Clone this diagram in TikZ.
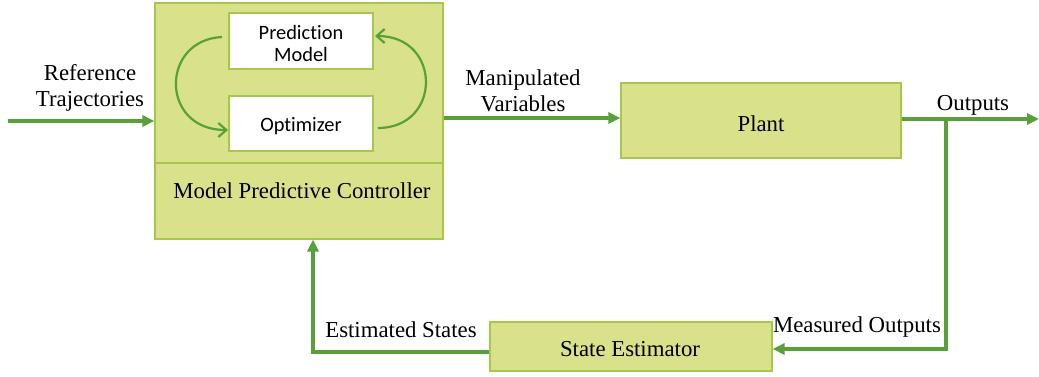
\documentclass[tikz,border=0pt]{standalone}
\usepackage{fontspec}
\setmainfont{Liberation Serif}
\newfontfamily\boxfont[Ligatures=NoCommon]{Carlito}
\usetikzlibrary{arrows.meta}
\definecolor{boxfill}{RGB}{217,225,138}
\definecolor{boxline}{RGB}{165,200,75}
\definecolor{flow}{RGB}{88,160,58}
\tikzset{
  block/.style={draw=boxline, line width=0.6pt, fill=boxfill, inner sep=0pt, font=\fontsize{11.4}{13}\selectfont},
  inner/.style={draw=boxline, line width=0.8pt, fill=white, inner sep=0pt, align=center, font=\boxfont\fontsize{10.2}{12}\selectfont},
  signal/.style={draw=flow, line width=2pt, -{Triangle[length=6pt,width=5.5pt]}},
  loop/.style={draw=flow, line width=1.1pt, -{Straight Barb[length=4pt,width=7pt,line width=1.1pt]}},
  lbl/.style={align=center, inner sep=0pt, font=\fontsize{11.4}{13}\selectfont}
}
\begin{document}
\begin{tikzpicture}[x=0.5pt, y=-0.5pt]
\useasboundingbox (0,0) rectangle (1039,376);
% controller block with its caption strip
\node[block, minimum width=144pt, minimum height=118pt] (mpc) at (299,121) {};
\draw[draw=boxline, line width=0.6pt] (mpc.west |- 0,163) coordinate (divl) -- (mpc.east |- 0,163) coordinate (divr);
\node[lbl] (mpclabel) at (302,191) {Model Predictive Controller};
\node[inner, minimum width=72pt, minimum height=28pt] (pm) at (301,41) {};
\node[inner, draw=none, fill=none] (pmtext) at (301,43) {Prediction\\[-1pt]Model};
\node[inner, minimum width=72pt, minimum height=27.5pt] (opt) at (301,123.5) {};
\node[inner, draw=none, fill=none] (opttext) at (301,126) {Optimizer};
% internal iteration loop
\coordinate (la) at (222,37);
\coordinate (lb) at (228,130);
\coordinate (ra) at (378,128);
\coordinate (rb) at (375,36);
\draw[loop] (la) .. controls (160,40) and (160,130) .. (lb);
\draw[loop] (ra) .. controls (442,128) and (442,36) .. (rb);
% plant and estimator
\node[block, minimum width=140pt, minimum height=37.5pt] (plant) at (761,120.5) {};
\node[lbl] (plantlabel) at (761,124) {Plant};
\node[block, minimum width=141pt, minimum height=24.5pt] (se) at (631,346.5) {};
\node[lbl] (selabel) at (630,349) {State Estimator};
% signals
\coordinate (refin) at (8,121);
\draw[signal] (refin) -- (refin -| mpc.west);
\node[lbl] (reflabel) at (90,88) {Reference\\Trajectories};
\draw[signal] (mpc.east |- 0,118) -- (plant.west |- 0,118);
\node[lbl] (mvlabel) at (523,91) {Manipulated\\Variables};
\coordinate (outend) at (1039,119);
\coordinate (tap) at (946,119);
\draw[signal] (plant.east |- outend) -- (outend);
\node[lbl] (outlabel) at (973,105) {Outputs};
\draw[signal] (tap) -- (946,349) -- (se.east |- 0,349);
\node[lbl] (molabel) at (857,327) {Measured Outputs};
\draw[signal] (se.west |- 0,352) -- (313,352) -- (313,239.5 -| 313,0);
\node[lbl] (eslabel) at (401,330) {Estimated States};
\end{tikzpicture}
\end{document}
